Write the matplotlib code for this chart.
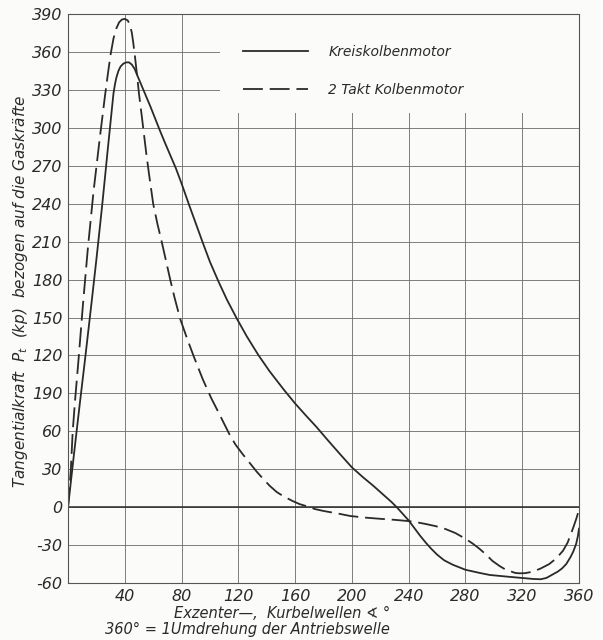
import matplotlib
matplotlib.use("Agg")
import matplotlib.pyplot as plt
from matplotlib.patches import Rectangle

# --- data ---
kreis_x = [0, 4, 8, 12, 16.4, 20, 24, 26.5, 28, 30, 32, 33, 34, 35.5, 37, 39, 41, 43, 45, 47,
           49, 52, 55, 58, 61, 64.7, 68, 72, 76, 80, 85, 90, 95, 100, 106, 112, 119, 126,
           134, 142, 152, 160, 168, 175, 183, 192, 200, 208, 215, 222, 228, 232, 236, 240,
           244, 248, 252, 256, 260, 265, 271, 280, 290, 297, 310, 320, 328, 333, 337, 341,
           345, 348, 351, 354, 356, 358, 359.2, 360]
kreis_y = [0, 40, 79, 117, 160, 196, 238, 266, 283, 305, 327, 334, 339.5, 345, 348.5, 350.8,
           351.8, 351.8, 350, 346.5, 341, 333, 325, 317, 308.5, 298, 289, 278.5, 268, 256,
           240, 224.5, 209, 194, 178.5, 164, 149, 135, 120.5, 107.5, 93, 82, 72, 63.5, 53,
           41.5, 31.5, 23.5, 17, 10, 4, -0.5, -5.5, -10.5, -16.5, -22.5, -28, -33, -37.5, -42,
           -45.5, -49.5, -52, -53.6, -55, -56, -56.8, -57, -56, -53.5, -51, -48.5, -45, -39.5,
           -35, -29, -23, -17]

takt_x = [0, 2, 3.3, 5, 7.5, 10.5, 14, 18, 22.5, 26, 28, 30, 32, 34, 36, 38, 40, 42, 43.5,
          45, 46, 47.2, 48.5, 50, 52, 53.5, 55, 57, 60, 63, 66, 69, 72, 75, 79, 84, 89, 95,
          101, 106, 110, 114, 118, 123, 128, 133, 137, 142, 147, 152, 158, 163, 168, 174,
          180, 190, 199, 210, 220, 230, 240, 246, 252, 259, 266, 273, 280, 285, 290, 295,
          299, 304, 308, 311, 315, 318, 322, 327.5, 333, 339, 344, 348.7, 352, 354, 356,
          358, 360]
takt_y = [0, 30, 60, 85, 118, 160, 205, 250, 293, 325, 342, 358, 370.5, 378.5, 383.5, 385.7,
          386.2, 385, 382, 375, 367, 356, 343, 327, 309, 295, 281, 264, 240, 224, 210, 195,
          180, 166, 149, 133, 118, 101, 86, 75, 66, 57, 49.5, 42, 35, 28, 23, 17, 12, 8.5, 5,
          2.5, 0.8, -1.5, -3, -5, -7, -8.3, -9.2, -10, -11, -12, -13.3, -15, -17.3, -20.5,
          -25, -28.7, -33, -38, -42.5, -46.5, -49.2, -50.4, -52, -52.3, -52.2, -51, -48.5,
          -45, -40.5, -34.5, -28, -22, -16, -9.5, -2]

series_labels = ["Kreiskolbenmotor", "2 Takt Kolbenmotor"]
x_ticks = [40, 80, 120, 160, 200, 240, 280, 320, 360]
y_ticks = [-60, -30, 0, 30, 60, 90, 120, 150, 180, 210, 240, 270, 300, 330, 360, 390]
y_tick_labels = ["-60", "-30", "0", "30", "60", "190", "120", "150", "180", "210",
                 "240", "270", "300", "330", "360", "390"]

ink = "#2a2a2a"
bg = "#fbfbfa"
plt.rcParams['font.family'] = ['DejaVu Sans']

fig = plt.figure(figsize=(6.03, 6.40), dpi=100, facecolor=bg)
ax = fig.add_axes([0.1128, 0.089, 0.8474, 0.889])
ax.set_facecolor(bg)

ax.set_xlim(0, 360)
ax.set_ylim(-60, 390)

# grid
for xv in x_ticks:
    ax.axvline(xv, color="#6a6a6a", lw=0.6, zorder=1)
for yv in y_ticks:
    ax.axhline(yv, color="#6a6a6a", lw=0.6, zorder=1)
ax.axhline(0, color=ink, lw=1.1, zorder=2)

# white box behind legend
ax.add_patch(Rectangle((0.297, 0.826), 0.703, 0.174, transform=ax.transAxes,
                       facecolor=bg, edgecolor="none", zorder=2.5))

l1, = ax.plot(kreis_x, kreis_y, color=ink, lw=1.3, zorder=3, label=series_labels[0],
              solid_joinstyle="round")
l2, = ax.plot(takt_x, takt_y, color=ink, lw=1.3, zorder=3, dashes=(11, 3.8),
              label=series_labels[1], dash_joinstyle="round")

leg = ax.legend(loc="upper left", bbox_to_anchor=(0.342, 0.946), frameon=False,
                borderpad=0, borderaxespad=0, handlelength=4.7, handletextpad=1.45,
                labelspacing=1.75, prop={"style": "italic", "size": 10})
for t in leg.get_texts():
    t.set_color(ink)
leg.set_zorder(4)

for s in ax.spines.values():
    s.set_color("#555555")
    s.set_linewidth(0.8)
    s.set_zorder(3)

ax.set_xticks(x_ticks)
ax.set_xticklabels([str(v) for v in x_ticks])
ax.set_yticks(y_ticks)
ax.set_yticklabels(y_tick_labels)
ax.tick_params(length=0, pad=4, labelsize=11.5, colors=ink)
for lab in ax.get_xticklabels() + ax.get_yticklabels():
    lab.set_style("italic")

fig.text(0.034, 0.544, "Tangentialkraft  P$_t$  (kp)  bezogen auf die Gaskräfte",
         rotation=90, ha="center", va="center", fontsize=11, style="italic", color=ink)
fig.text(0.648, 0.042, "Exzenter—,  Kurbelwellen ∢ °", ha="right", va="center",
         fontsize=10.5, style="italic", color=ink)
fig.text(0.646, 0.016, "360° = 1Umdrehung der Antriebswelle", ha="right", va="center",
         fontsize=10.5, style="italic", color=ink)

fig.savefig("out.png", dpi=100, facecolor=bg)
